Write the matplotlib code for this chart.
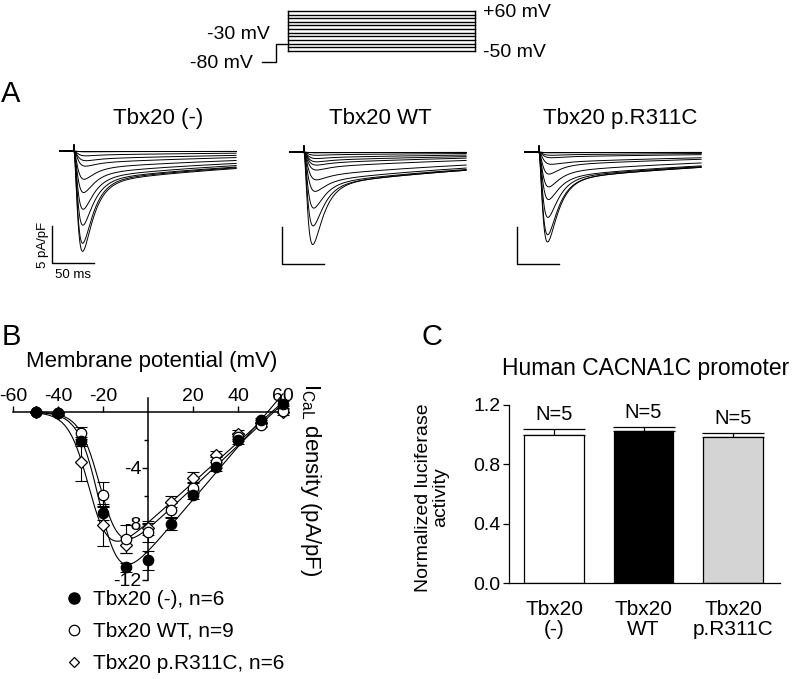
import numpy as np
import matplotlib
matplotlib.use('Agg')
import matplotlib.pyplot as plt
from matplotlib.lines import Line2D

plt.rcParams['font.family'] = ['Liberation Sans', 'DejaVu Sans']
plt.rcParams['mathtext.fontset'] = 'custom'
plt.rcParams['mathtext.rm'] = 'Liberation Sans'
plt.rcParams['mathtext.it'] = 'Liberation Sans:italic'

W, H = 796, 679

# ---------------- data ----------------
# voltage protocol (mV)
hold_v = -80
pre_v = -30
step_v = [-50, -40, -30, -20, -10, 0, 10, 20, 30, 40, 50, 60]

# panel A: representative traces, peak and end-of-pulse current (pA/pF)
group_names = ["Tbx20 (-)", "Tbx20 WT", "Tbx20 p.R311C"]
peak_neg = [0, 0, 0.1, 0.6, 1.2, 1.9, 3.7, 5.5, 7.8, 10.0, 12.5, 13.6]
end_neg = [0, 0, 0.1, 0.3, 0.6, 0.9, 1.3, 1.7, 2.0, 2.2, 2.3, 2.4]
peak_wt = [0, 0.1, 0.4, 0.8, 1.2, 1.6, 2.2, 3.4, 5.0, 7.4, 9.9, 12.5]
end_wt = [0, 0.1, 0.3, 0.6, 1.0, 1.3, 1.6, 1.9, 2.2, 2.4, 2.5, 2.5]
peak_mut = [0, 0, 0.1, 0.4, 0.7, 1.5, 2.9, 4.6, 6.3, 8.8, 11.2, 12.2]
end_mut = [0, 0, 0.1, 0.3, 0.5, 0.8, 1.0, 1.5, 1.9, 2.0, 2.1, 2.1]
tau_act, tau_fast, tau_slow = 5.0, 13.0, 300.0   # ms
pulse_len = 193.0
artifact = 0.8

# panel B: I-V relation (pA/pF)
iv_v = [-50, -40, -30, -20, -10, 0, 10, 20, 30, 40, 50, 60]
iv_neg = [0.0, -0.1, -2.1, -7.2, -11.1, -10.6, -8.0, -5.9, -3.9, -2.0, -0.6, 0.6]
iv_neg_sem = [0.05, 0.1, 0.3, 0.5, 0.3, 0.7, 0.4, 0.3, 0.3, 0.3, 0.2, 0.2]
iv_wt = [0.0, -0.1, -1.5, -5.9, -9.1, -8.6, -7.0, -5.4, -3.6, -1.8, -0.9, 0.1]
iv_wt_sem = [0.05, 0.1, 0.4, 0.9, 1.0, 0.7, 0.5, 0.4, 0.4, 0.3, 0.2, 0.2]
iv_mut = [0.0, -0.1, -3.6, -8.1, -9.5, -8.3, -6.4, -4.7, -3.1, -1.6, -0.8, 0.0]
iv_mut_sem = [0.05, 0.1, 1.3, 1.5, 0.6, 0.5, 0.4, 0.4, 0.3, 0.3, 0.2, 0.2]
legend_labels = ["Tbx20 (-), n=6", "Tbx20 WT, n=9", "Tbx20 p.R311C, n=6"]

# panel C: luciferase assay
bar_labels = ["Tbx20\n(-)", "Tbx20\nWT", "Tbx20\np.R311C"]
bar_mean = [1.00, 1.025, 0.985]
bar_sem = [0.04, 0.025, 0.025]
bar_n = [5, 5, 5]
bar_colors = ['white', 'black', '#d4d4d4']


def px_axes(l, t, r, b):
    return fig.add_axes([l / W, 1 - b / H, (r - l) / W, (b - t) / H])


def boltz_fit(v, i):
    # I = (a*V + b) / (1 + exp((Vh - V)/k)); grid over Vh, k, linear LS for a, b
    v = np.asarray(v, float)
    i = np.asarray(i, float)
    vh = np.arange(-40, 0.01, 0.25)[:, None, None]
    k = np.arange(2, 14.01, 0.1)[None, :, None]
    s = 1 / (1 + np.exp((vh - v) / k))
    x1, x2 = v * s, s
    s11 = (x1 * x1).sum(-1)
    s12 = (x1 * x2).sum(-1)
    s22 = (x2 * x2).sum(-1)
    r1 = (x1 * i).sum(-1)
    r2 = (x2 * i).sum(-1)
    det = s11 * s22 - s12 ** 2
    a = (r1 * s22 - r2 * s12) / det
    b = (s11 * r2 - s12 * r1) / det
    res = ((a[..., None] * x1 + b[..., None] * x2 - i) ** 2).sum(-1)
    j = np.unravel_index(np.argmin(res), res.shape)
    return vh[j[0], 0, 0], k[0, j[1], 0], a[j], b[j]


fig = plt.figure(figsize=(W / 100, H / 100), dpi=100)

# ---------------- protocol schematic ----------------
axp = px_axes(246, 9.1, 489, 63.7)
axp.set_xlim(-45, 215)
axp.set_ylim(-85, 65)
axp.axis('off')
axp.plot([-28, -13, -13, 0], [hold_v, hold_v, pre_v, pre_v], color='black', lw=1.0)
for v in step_v:
    axp.plot([0, 200], [v, v], color='black', lw=1.0)
axp.plot([0, 0], [step_v[0], step_v[-1]], color='black', lw=1.0)
axp.plot([200, 200], [step_v[0], step_v[-1]], color='black', lw=1.0)
axp.text(209, step_v[-1], "+%d mV" % step_v[-1], ha='left', va='center_baseline', fontsize=14, clip_on=False)
axp.text(209, step_v[0], "%d mV" % step_v[0], ha='left', va='center_baseline', fontsize=14, clip_on=False)
axp.text(-19, pre_v + 1, "%d mV" % pre_v, ha='right', va='bottom', fontsize=14, clip_on=False)
axp.text(-38, hold_v, "%d mV" % hold_v, ha='right', va='center_baseline', fontsize=14, clip_on=False)

# ---------------- panel A ----------------
step_x = [74, 304, 539]
base_y = [151, 152, 152]
px_ms, px_pa = 0.84, 7.3
peaks = [peak_neg, peak_wt, peak_mut]
ends = [end_neg, end_wt, end_mut]
t = np.linspace(0, pulse_len, 900)
act = (1 - np.exp(-t / tau_act)) ** 2
fast = act * np.exp(-t / tau_fast)
slow = act * np.exp(-t / tau_slow)
i_pk = np.argmax(fast)
for g in range(3):
    sx, by = step_x[g], base_y[g]
    ax = px_axes(sx - 30 * px_ms, by - 1.5 * px_pa, sx + 200 * px_ms, by + 16 * px_pa)
    ax.set_xlim(-30, 200)
    ax.set_ylim(-16, 1.5)
    ax.axis('off')
    for pk, en in zip(peaks[g], ends[g]):
        s_amp = min(en / np.exp(-pulse_len / tau_slow), pk)
        f_amp = max(pk - s_amp * slow[i_pk], 0) / fast[i_pk]
        cur = -(f_amp * fast + s_amp * slow)
        ax.plot(np.r_[-17, 0, 0, t], np.r_[0, 0, artifact, cur], color='black', lw=0.7)
    # scale bar 5 pA/pF, 50 ms
    ax.plot([-26, -26, 24], [-10.3, -15.3, -15.3], color='black', lw=1.0, clip_on=False)
    if g == 0:
        ax.text(-37, -12.8, "5 pA/pF", rotation=90, ha='center', va='center', fontsize=9.5, clip_on=False)
        ax.text(-1, -17.0, "50 ms", ha='center', va='center', fontsize=9.5, clip_on=False)
title_x = [158, 380, 620]
for g in range(3):
    fig.text(title_x[g] / W, 1 - 124 / H, group_names[g], ha='center', va='baseline', fontsize=16)

# ---------------- panel B ----------------
axb = px_axes(148 - 64 * 2.25, 412 - 1.4 * 14, 148 + 66 * 2.25, 412 + 12.6 * 14)
axb.set_xlim(-64, 66)
axb.set_ylim(-12.6, 1.4)
axb.patch.set_alpha(0)
for sp in ['right', 'bottom']:
    axb.spines[sp].set_visible(False)
axb.spines['top'].set_position(('data', 0))
axb.spines['top'].set_bounds(-60, 62)
axb.spines['left'].set_position(('data', 0))
axb.spines['left'].set_bounds(-12, 1.0)
axb.spines['top'].set_linewidth(1.1)
axb.spines['left'].set_linewidth(1.1)
axb.xaxis.set_ticks_position('top')
axb.set_xticks([-60, -40, -20, 20, 40, 60])
axb.set_xticklabels(['-60', '-40', '-20', '20', '40', '60'])
axb.tick_params(axis='x', direction='out', length=4.5, width=1.0, pad=0.5, labelsize=14)
axb.set_yticks([-12, -8, -4])
axb.set_yticklabels(['-12', '-8', '-4'])
axb.set_yticks([-10, -6, -2], minor=True)
axb.tick_params(axis='y', which='major', direction='out', length=4, width=1.0, pad=0.5, labelsize=14)
axb.tick_params(axis='y', which='minor', direction='out', length=3, width=1.0)

vv = np.linspace(-50, 60, 300)
series = [(iv_mut, iv_mut_sem, 'D', 'white', 6.0),
          (iv_wt, iv_wt_sem, 'o', 'white', 7.5),
          (iv_neg, iv_neg_sem, 'o', 'black', 7.5)]
for vals, sem, mk, fc, ms in series:
    vh, k, a, b = boltz_fit(iv_v, vals)
    axb.plot(vv, (a * vv + b) / (1 + np.exp((vh - vv) / k)), color='black', lw=0.8, zorder=2)
    axb.errorbar(iv_v, vals, yerr=sem, fmt='none', ecolor='black', elinewidth=0.8,
                 capsize=4, capthick=0.8, zorder=3)
    axb.plot(iv_v, vals, linestyle='none', marker=mk, ms=ms, mfc=fc, mec='black',
             mew=0.9, zorder=4)

fig.text(152 / W, 1 - 362 / H, "Membrane potential (mV)", ha='center', va='center', fontsize=16)
fig.text(311 / W, 1 - 480 / H, r"I$_{\mathregular{CaL}}$ density (pA/pF)", rotation=270,
         ha='center', va='center', fontsize=16)
handles = [Line2D([], [], ls='none', marker='o', ms=8, mfc='black', mec='black'),
           Line2D([], [], ls='none', marker='o', ms=7.5, mfc='white', mec='black', mew=0.9),
           Line2D([], [], ls='none', marker='D', ms=5.5, mfc='white', mec='black', mew=0.9)]
fig.legend(handles, legend_labels, loc='upper left', bbox_to_anchor=(64 / W, 1 - 590 / H),
           frameon=False, fontsize=15, handlelength=1.0, handletextpad=0.4,
           labelspacing=0.62, borderpad=0, borderaxespad=0)

# ---------------- panel C ----------------
axc = px_axes(509, 405, 780, 583)
xpos = np.arange(len(bar_mean))
axc.bar(xpos, bar_mean, width=0.67, color=bar_colors, edgecolor='black', linewidth=0.9, zorder=2)
axc.errorbar(xpos, bar_mean, yerr=[[0] * 3, bar_sem], fmt='none', ecolor='black',
             elinewidth=0.9, capsize=22, capthick=0.9, zorder=1)
for x, m, s, n in zip(xpos, bar_mean, bar_sem, bar_n):
    axc.text(x, m + s + 0.035, "N=%d" % n, ha='center', va='bottom', fontsize=14.5)
axc.set_xlim(-0.503, 2.525)
axc.set_ylim(0, 1.2)
axc.set_yticks([0.0, 0.4, 0.8, 1.2])
axc.set_yticklabels(['0.0', '0.4', '0.8', '1.2'])
axc.set_xticks(xpos)
axc.set_xticklabels(bar_labels, linespacing=1.1)
axc.spines['top'].set_visible(False)
axc.spines['right'].set_visible(False)
axc.spines['left'].set_linewidth(0.9)
axc.spines['bottom'].set_linewidth(0.9)
axc.tick_params(axis='y', direction='out', length=4, width=0.9, labelsize=14, pad=2)
axc.tick_params(axis='x', length=0, labelsize=15, pad=12)
axc.set_ylabel("Normalized luciferase\nactivity", fontsize=14, linespacing=1.05)
axc.yaxis.set_label_coords(-0.22, 0.48)
fig.text(646 / W, 1 - 368 / H, "Human CACNA1C promoter", ha='center', va='center', fontsize=16.5)

# ---------------- panel letters ----------------
fig.text(1 / W, 1 - 102 / H, "A", ha='left', va='baseline', fontsize=21)
fig.text(2 / W, 1 - 345 / H, "B", ha='left', va='baseline', fontsize=21)
fig.text(421 / W, 1 - 345 / H, "C", ha='left', va='baseline', fontsize=21)

fig.savefig("out.png", dpi=100)
